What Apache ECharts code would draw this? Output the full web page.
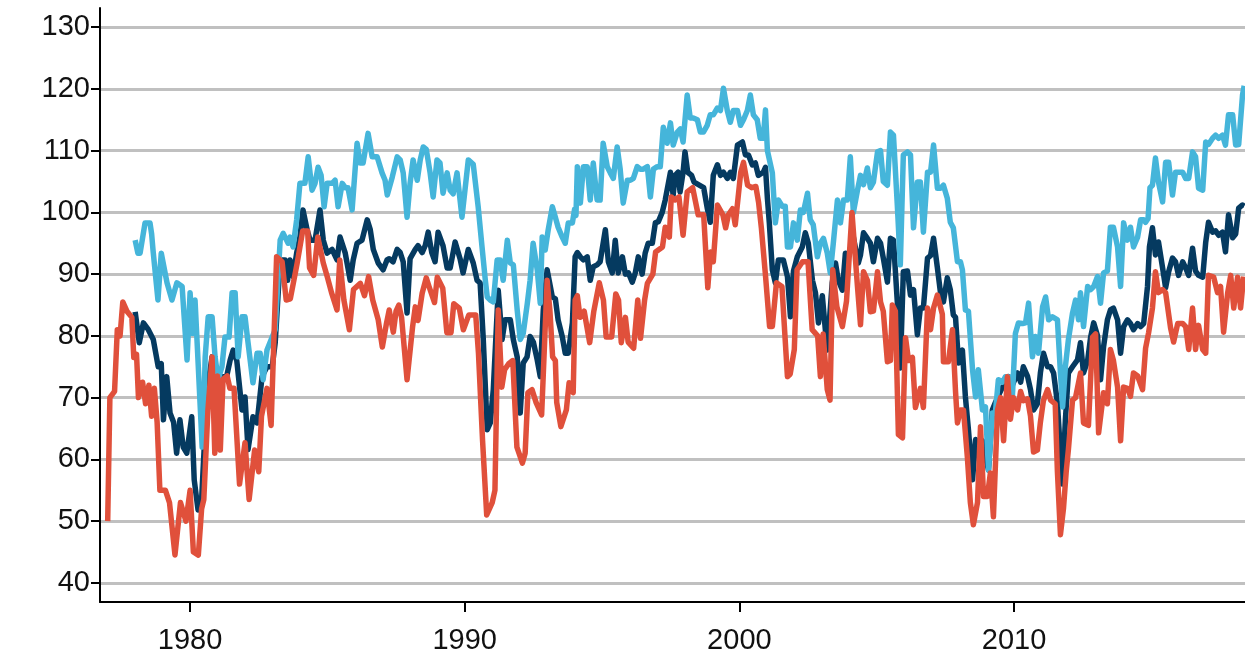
<!DOCTYPE html>
<html>
<head>
<meta charset="utf-8">
<script src="https://cdn.jsdelivr.net/npm/echarts@6/dist/echarts.min.js"></script>
<style>html,body{margin:0;padding:0;background:#fff}#c{width:1245px;height:663px}</style>
</head>
<body>
<div id="c"></div>
<script>
// Tick labels
const yTicks = [40, 50, 60, 70, 80, 90, 100, 110, 120, 130];
const xTicks = [1980, 1990, 2000, 2010];

// Series values: [decimal year, index value]
const redData = [[1977.00,50],[1977.08,70],[1977.25,71],[1977.35,81],[1977.45,80],[1977.55,85.5],[1977.7,84],[1977.88,83],[1977.95,76.5],[1978.05,77],[1978.12,70],[1978.27,72.5],[1978.38,69],[1978.5,72],[1978.6,67],[1978.7,71.5],[1978.8,66],[1978.9,55],[1979.1,55],[1979.25,53],[1979.45,44.5],[1979.65,53],[1979.85,50],[1980.0,55],[1980.12,45],[1980.3,44.5],[1980.42,52],[1980.5,53.5],[1980.65,68],[1980.8,76.6],[1980.9,61],[1981.0,73.5],[1981.1,61.5],[1981.2,73],[1981.35,73.5],[1981.45,71.5],[1981.6,71.5],[1981.8,56],[1982.0,62.7],[1982.15,53.5],[1982.35,61.5],[1982.5,58],[1982.6,67],[1982.8,71.5],[1982.95,65.5],[1983.15,92.8],[1983.35,92],[1983.5,85.8],[1983.65,86],[1983.9,91.8],[1984.1,97],[1984.28,97],[1984.35,91],[1984.5,89.8],[1984.65,96],[1984.85,91.8],[1985.0,89.5],[1985.15,87],[1985.35,84.2],[1985.45,92.3],[1985.6,85.8],[1985.8,81],[1985.95,87.5],[1986.2,88.5],[1986.35,86.5],[1986.5,89.6],[1986.65,85.8],[1986.85,82.6],[1987.0,78.2],[1987.15,82],[1987.25,84.2],[1987.4,80.6],[1987.5,84],[1987.6,85],[1987.7,83],[1987.9,72.9],[1988.1,81.4],[1988.2,84.7],[1988.3,82.5],[1988.45,86.9],[1988.6,89.4],[1988.7,88],[1988.9,85.4],[1989.0,89.5],[1989.2,87.7],[1989.35,80.5],[1989.5,80.5],[1989.6,85.2],[1989.8,84.5],[1989.95,81],[1990.15,83.4],[1990.4,83.4],[1990.5,77.2],[1990.65,63],[1990.8,51],[1991.0,53],[1991.1,55],[1991.22,84.2],[1991.35,71.7],[1991.45,74.5],[1991.6,75.5],[1991.75,76],[1991.9,62],[1992.1,59.4],[1992.2,61],[1992.3,70.8],[1992.45,71.3],[1992.6,69.2],[1992.8,67.2],[1993.0,89],[1993.1,84.2],[1993.2,76.6],[1993.3,76],[1993.35,69.2],[1993.5,65.3],[1993.7,68],[1993.8,72.4],[1993.95,70.8],[1994.02,85.8],[1994.1,86.5],[1994.2,83],[1994.35,84],[1994.55,78.9],[1994.7,84],[1994.9,88.6],[1995.05,85.8],[1995.15,79.8],[1995.35,79.8],[1995.5,86.8],[1995.6,85.8],[1995.7,78.9],[1995.85,83],[1995.95,79],[1996.15,78],[1996.3,85.8],[1996.4,79.6],[1996.55,85.8],[1996.65,88.5],[1996.85,90],[1996.95,93.6],[1997.2,94.4],[1997.3,97.6],[1997.45,96],[1997.52,102.5],[1997.65,102],[1997.8,102.5],[1997.95,96.3],[1998.1,103.3],[1998.3,104],[1998.5,99.6],[1998.7,99.6],[1998.85,87.8],[1998.95,93.6],[1999.05,92],[1999.2,101.2],[1999.4,99.6],[1999.5,97.5],[1999.6,99.6],[1999.75,100.6],[1999.85,98],[2000.05,106.5],[2000.15,108.1],[2000.3,104.4],[2000.45,104],[2000.6,104.2],[2000.7,101.6],[2000.8,97.5],[2000.95,89.8],[2001.1,81.5],[2001.2,81.5],[2001.35,88.6],[2001.55,88],[2001.75,73.4],[2001.85,73.8],[2002.0,77.8],[2002.1,90.7],[2002.3,92],[2002.5,92],[2002.65,81],[2002.85,80],[2002.95,73.4],[2003.05,80.3],[2003.2,71.3],[2003.3,69.6],[2003.4,90.7],[2003.55,84.7],[2003.75,81.5],[2003.9,85.6],[2004.1,100],[2004.3,88],[2004.41,81.8],[2004.52,90.4],[2004.66,89],[2004.77,83.9],[2004.88,84],[2005.03,90.4],[2005.14,85.5],[2005.24,84],[2005.39,75.8],[2005.5,76],[2005.57,85],[2005.68,84],[2005.79,64],[2005.94,63.5],[2006.05,79.7],[2006.16,76],[2006.3,76.5],[2006.41,68.4],[2006.59,71.5],[2006.7,68.4],[2006.85,84.5],[2006.96,81],[2007.07,84.5],[2007.21,86.6],[2007.39,83.5],[2007.43,75.8],[2007.61,75.8],[2007.76,81],[2007.87,71],[2007.94,65.9],[2008.05,68],[2008.16,68],[2008.3,60.4],[2008.41,53],[2008.52,49.4],[2008.67,53],[2008.78,65.3],[2008.89,54],[2009.03,54],[2009.14,57.8],[2009.25,50.7],[2009.4,68],[2009.51,70],[2009.62,63],[2009.76,73.4],[2009.87,66.5],[2009.98,70],[2010.13,68],[2010.24,71],[2010.34,69.5],[2010.49,69.8],[2010.6,67],[2010.71,61.2],[2010.85,61.5],[2010.96,66],[2011.07,69.5],[2011.22,71.3],[2011.33,69.6],[2011.5,69],[2011.58,58],[2011.69,47.8],[2011.8,52],[2011.9,58],[2011.98,61.6],[2012.13,69.6],[2012.24,70],[2012.42,74],[2012.53,65.9],[2012.71,65.5],[2012.86,79.8],[2012.97,80.3],[2013.08,64.3],[2013.15,64],[2013.26,70.8],[2013.4,69],[2013.51,77.8],[2013.62,76],[2013.77,71.7],[2013.88,63],[2013.99,71.7],[2014.13,71.5],[2014.24,70.2],[2014.35,74],[2014.5,73.5],[2014.68,71.3],[2014.79,78],[2014.9,80.5],[2015.04,84.5],[2015.15,90.4],[2015.26,87],[2015.41,87.5],[2015.52,87],[2015.7,81.3],[2015.81,79],[2015.96,82],[2016.14,82],[2016.25,81.5],[2016.36,77.8],[2016.5,84.5],[2016.61,77.8],[2016.72,81.7],[2016.87,77.8],[2016.98,77.2],[2017.08,89.8],[2017.27,89.5],[2017.41,87],[2017.52,88],[2017.63,80.6],[2017.78,87],[2017.89,89.8],[2018.0,84.5],[2018.14,89.5],[2018.25,84.5],[2018.36,89.6]];

const navyData = [[1978.0,83.9],[1978.15,78.9],[1978.3,82.1],[1978.48,81],[1978.66,79.4],[1978.84,75],[1978.95,75.5],[1979.03,66.4],[1979.15,73.4],[1979.27,67.5],[1979.4,66],[1979.51,61],[1979.63,66.4],[1979.75,62],[1979.88,61],[1980.06,66.9],[1980.15,56.7],[1980.29,51.8],[1980.42,53.5],[1980.62,71.3],[1980.8,76.6],[1980.98,72.4],[1981.16,73.4],[1981.33,73.4],[1981.46,76.1],[1981.57,77.7],[1981.7,76],[1981.89,68],[1982.0,70.1],[1982.11,61.6],[1982.29,66.9],[1982.44,65.9],[1982.62,73.4],[1982.8,75],[1982.99,75],[1983.1,78.9],[1983.28,92.3],[1983.46,92.3],[1983.55,89],[1983.64,92.3],[1983.75,89.6],[1983.88,93.4],[1984.0,96],[1984.11,100.4],[1984.26,97.2],[1984.37,95.5],[1984.55,95.5],[1984.73,100.4],[1984.85,95.5],[1984.99,93.4],[1985.17,94],[1985.35,92.3],[1985.46,96],[1985.65,93.4],[1985.83,89],[1985.94,92.3],[1986.08,95],[1986.26,95.5],[1986.45,98.8],[1986.56,97.2],[1986.67,94],[1986.85,91.8],[1987.03,90.7],[1987.17,92.3],[1987.25,92.5],[1987.39,92],[1987.54,94],[1987.65,93.5],[1987.76,92],[1987.9,83.7],[1988.01,92.5],[1988.2,94],[1988.3,94.6],[1988.45,93.5],[1988.56,94.6],[1988.67,96.8],[1988.8,93.5],[1988.92,92],[1989.03,96.8],[1989.21,94.6],[1989.36,91],[1989.47,91],[1989.65,95.2],[1989.83,92.5],[1989.94,90.2],[1990.13,94],[1990.31,91.8],[1990.45,89],[1990.56,88.6],[1990.67,79.9],[1990.82,64.8],[1990.93,65.9],[1991.04,71.3],[1991.22,87.4],[1991.36,79.4],[1991.47,82.6],[1991.66,82.6],[1991.77,79.4],[1991.91,76.6],[1992.02,67.5],[1992.13,75.6],[1992.27,76.6],[1992.38,79.9],[1992.5,79],[1992.64,76.1],[1992.75,73.4],[1992.86,84.2],[1993.0,90.7],[1993.19,86.3],[1993.3,86],[1993.4,82.6],[1993.55,79.9],[1993.66,77.2],[1993.77,77.2],[1993.92,82.1],[1994.02,92.8],[1994.1,93.5],[1994.21,92.8],[1994.32,92.3],[1994.46,92.8],[1994.57,89],[1994.68,91.2],[1994.82,91.5],[1994.93,92],[1995.12,97.2],[1995.23,92],[1995.37,90.2],[1995.48,95.5],[1995.59,90.2],[1995.74,92.8],[1995.85,90],[1995.96,90.2],[1996.1,88.7],[1996.21,90.2],[1996.32,92.8],[1996.46,90],[1996.57,93.4],[1996.68,95],[1996.83,95],[1996.94,98.3],[1997.05,98.5],[1997.19,100],[1997.3,102],[1997.49,106.5],[1997.59,102.8],[1997.66,106],[1997.77,106.5],[1997.84,103.3],[1997.95,106.5],[1998.02,109.8],[1998.12,106.5],[1998.26,106],[1998.35,104.9],[1998.7,104],[1998.83,100.7],[1998.94,98.4],[1999.05,106],[1999.2,107.7],[1999.31,106],[1999.42,106.5],[1999.56,105.5],[1999.67,106.5],[1999.78,105.5],[1999.93,110.9],[2000.11,111.4],[2000.22,109.3],[2000.33,109.3],[2000.47,107.7],[2000.58,108],[2000.69,106],[2000.87,106.5],[2000.95,107.3],[2001.02,102.3],[2001.09,98.3],[2001.2,90.7],[2001.31,88.6],[2001.42,92.3],[2001.6,92.3],[2001.75,89.6],[2001.86,83.1],[2001.97,90.5],[2002.11,92.8],[2002.29,94.4],[2002.4,96.7],[2002.51,95],[2002.66,89],[2002.77,87],[2002.88,82.1],[2003.02,86.5],[2003.13,81],[2003.2,77.7],[2003.38,88.6],[2003.5,91.8],[2003.6,89],[2003.75,87.4],[2003.86,93.4],[2003.97,93],[2004.15,96],[2004.33,91.8],[2004.41,93.1],[2004.52,96.7],[2004.66,95.8],[2004.77,95],[2004.88,92],[2005.03,95.8],[2005.14,95],[2005.24,92.6],[2005.39,88.7],[2005.5,95.8],[2005.61,95.5],[2005.75,85.5],[2005.86,74.8],[2005.97,90.4],[2006.12,90.5],[2006.23,86.6],[2006.34,87.5],[2006.48,80.2],[2006.59,84.5],[2006.7,84.5],[2006.85,92.6],[2006.96,93],[2007.07,95.8],[2007.21,91],[2007.32,87.1],[2007.43,85.5],[2007.57,89.4],[2007.68,87.5],[2007.79,83.4],[2007.87,83],[2007.98,75.6],[2008.12,77.7],[2008.23,70.1],[2008.34,64.8],[2008.49,56.7],[2008.6,63.2],[2008.7,62],[2008.85,63],[2008.96,60.4],[2009.07,58.3],[2009.21,68],[2009.32,69.2],[2009.45,70.5],[2009.58,71.7],[2009.69,72],[2009.8,73.4],[2009.94,72],[2010.13,74],[2010.24,72.5],[2010.34,75],[2010.49,73.5],[2010.6,71.3],[2010.71,68],[2010.85,69],[2010.96,74],[2011.07,77.2],[2011.22,75],[2011.33,75],[2011.44,74],[2011.58,69.1],[2011.76,56],[2011.87,66.4],[2011.98,74],[2012.13,75],[2012.31,76.1],[2012.42,78.9],[2012.53,74],[2012.68,76],[2012.79,79.8],[2012.9,82.1],[2013.04,80],[2013.15,72.9],[2013.26,78.2],[2013.4,82.6],[2013.51,84.2],[2013.62,84.5],[2013.77,82.6],[2013.88,77.2],[2013.99,81.5],[2014.13,82.6],[2014.24,82],[2014.35,81],[2014.5,82],[2014.61,81.5],[2014.72,82],[2014.86,88],[2014.93,94.4],[2015.04,97.5],[2015.15,93.1],[2015.26,95.2],[2015.41,91],[2015.52,87.8],[2015.63,90.4],[2015.77,92.6],[2015.88,92],[2015.99,89.8],[2016.14,92],[2016.25,91],[2016.36,89.8],[2016.5,94.2],[2016.61,90.5],[2016.72,89.8],[2016.87,89.5],[2016.98,95.2],[2017.08,98.4],[2017.23,96.8],[2017.34,97],[2017.45,96.3],[2017.59,96.8],[2017.7,93.6],[2017.81,99.6],[2017.96,95.9],[2018.07,96.5],[2018.18,100.7],[2018.32,101.2],[2018.38,101]];

const blueData = [[1978.0,95.5],[1978.1,93.4],[1978.18,93.4],[1978.36,98.3],[1978.54,98.3],[1978.6,96.5],[1978.65,93.9],[1978.83,85.8],[1978.95,93.4],[1979.16,88.6],[1979.34,85.8],[1979.52,88.6],[1979.71,88],[1979.89,76.1],[1980.0,87],[1980.1,80.4],[1980.18,85.8],[1980.27,77.7],[1980.44,62],[1980.5,68],[1980.55,76.6],[1980.66,83.1],[1980.8,83.1],[1980.91,76.6],[1981.02,72.9],[1981.16,75],[1981.27,79.8],[1981.42,79.8],[1981.53,87],[1981.64,87],[1981.75,76.6],[1981.89,83.1],[1982.0,83.1],[1982.11,78.9],[1982.29,72.4],[1982.44,77.2],[1982.55,77.2],[1982.66,72.9],[1982.8,77.7],[1982.99,79.8],[1983.1,81],[1983.28,95.5],[1983.39,96.6],[1983.57,95],[1983.64,96],[1983.75,94.4],[1983.88,98.8],[1984.0,104.7],[1984.18,104.7],[1984.3,109],[1984.44,103.6],[1984.55,104.7],[1984.66,107.3],[1984.77,106],[1984.88,100.9],[1984.99,104.7],[1985.17,104.7],[1985.28,105.2],[1985.39,100.9],[1985.54,104.7],[1985.65,104],[1985.75,104],[1985.9,100.4],[1986.08,111.2],[1986.19,108],[1986.3,108],[1986.48,112.8],[1986.63,109],[1986.81,109],[1986.99,106.4],[1987.1,105.2],[1987.18,102.8],[1987.36,105.7],[1987.54,109],[1987.65,108.5],[1987.76,106.4],[1987.9,99.2],[1988.01,104.7],[1988.12,108.5],[1988.27,105.2],[1988.38,108.5],[1988.49,110.6],[1988.6,110.2],[1988.74,106.4],[1988.85,102.5],[1988.99,108.5],[1989.1,108],[1989.21,103.1],[1989.36,106.4],[1989.47,103.6],[1989.58,103],[1989.72,106.4],[1989.9,99.2],[1990.13,108.5],[1990.31,107.8],[1990.49,100.9],[1990.63,94.4],[1990.75,89],[1990.82,86.3],[1990.93,85.8],[1991.04,85.5],[1991.18,92.3],[1991.29,92.3],[1991.4,89],[1991.55,95.5],[1991.66,91.8],[1991.77,91.5],[1991.91,84.2],[1992.02,79.4],[1992.13,80.4],[1992.28,85.3],[1992.38,89],[1992.49,95],[1992.64,90.7],[1992.75,85.3],[1992.82,96],[1992.93,93.9],[1993.04,97.2],[1993.19,100.9],[1993.3,99.2],[1993.4,97.6],[1993.55,96],[1993.66,95],[1993.77,98.3],[1993.92,98.3],[1994.0,100.5],[1994.05,99.5],[1994.1,107.4],[1994.21,101.5],[1994.32,107.4],[1994.46,107.4],[1994.57,102],[1994.68,108],[1994.82,102],[1994.93,102],[1995.04,111.2],[1995.19,107.4],[1995.3,106.4],[1995.41,105.5],[1995.55,110.6],[1995.66,107],[1995.77,101.5],[1995.92,105.2],[1996.03,105.2],[1996.14,105.5],[1996.28,107.4],[1996.39,107],[1996.5,107],[1996.65,107.4],[1996.76,102.5],[1996.87,107],[1997.01,107.4],[1997.12,107.4],[1997.23,113.8],[1997.37,111.2],[1997.49,114.5],[1997.59,110.9],[1997.74,113],[1997.85,113.5],[1997.95,111.4],[1998.1,119],[1998.21,115.3],[1998.32,115.3],[1998.47,115],[1998.58,113],[1998.69,113],[1998.83,114.1],[1998.94,115.8],[1999.05,115.8],[1999.2,116.9],[1999.31,116.5],[1999.42,120.1],[1999.56,116.5],[1999.67,114.6],[1999.78,116.5],[1999.93,116.5],[2000.04,114.1],[2000.15,115],[2000.29,116.5],[2000.4,119],[2000.51,115.8],[2000.65,115],[2000.76,112],[2000.87,112],[2000.95,116.6],[2001.02,110],[2001.09,110.1],[2001.2,106.4],[2001.31,98.3],[2001.42,102],[2001.56,101],[2001.67,101],[2001.75,94.4],[2001.86,94.4],[2001.97,98.3],[2002.11,95.5],[2002.22,100.4],[2002.33,100],[2002.48,103.1],[2002.58,98.8],[2002.69,98],[2002.84,92.8],[2002.95,95],[2003.06,95.8],[2003.2,93.4],[2003.31,90.2],[2003.42,95],[2003.57,102],[2003.68,98.3],[2003.79,102],[2003.93,102],[2004.04,109],[2004.15,100],[2004.3,103.6],[2004.41,106],[2004.52,104.5],[2004.66,107.2],[2004.77,104],[2004.88,104.9],[2005.03,109.8],[2005.14,110],[2005.24,105],[2005.39,104.4],[2005.5,113],[2005.61,112.5],[2005.75,101.2],[2005.86,91.5],[2005.97,109.3],[2006.12,109.8],[2006.23,109.3],[2006.34,97.5],[2006.48,104.9],[2006.59,104.9],[2006.7,96.8],[2006.85,106.5],[2006.96,106.5],[2007.07,110.9],[2007.21,103.9],[2007.32,103.9],[2007.43,104.4],[2007.57,102.3],[2007.68,98.4],[2007.79,97.5],[2007.94,92],[2008.05,92],[2008.12,90.7],[2008.23,84.2],[2008.34,84],[2008.49,74.5],[2008.6,70.1],[2008.7,74.5],[2008.85,68],[2008.96,68.5],[2009.07,58.3],[2009.21,67.5],[2009.32,67.5],[2009.43,72.9],[2009.58,72.5],[2009.69,73.4],[2009.8,73.4],[2009.94,70.1],[2010.05,80.4],[2010.16,82.1],[2010.31,82],[2010.42,82.1],[2010.53,85.3],[2010.67,76.6],[2010.78,79.9],[2010.89,77.2],[2011.04,84.7],[2011.15,86.3],[2011.26,82.6],[2011.4,83.1],[2011.58,82.6],[2011.69,74],[2011.77,68.5],[2011.87,75],[2011.98,79.4],[2012.13,83.7],[2012.24,85.8],[2012.35,82.6],[2012.42,87],[2012.53,81.5],[2012.68,88],[2012.79,87.5],[2012.9,88],[2013.04,89.6],[2013.15,85.3],[2013.26,90.2],[2013.4,90.5],[2013.51,97.6],[2013.62,97.6],[2013.77,94.4],[2013.88,88],[2013.99,98.3],[2014.13,95.5],[2014.24,97.6],[2014.35,94.4],[2014.5,96],[2014.61,98.8],[2014.72,98.8],[2014.79,98.4],[2014.88,99],[2014.95,104],[2015.04,104.4],[2015.15,108.8],[2015.26,104.9],[2015.41,101.7],[2015.52,108.1],[2015.63,108.1],[2015.77,102.8],[2015.88,106.5],[2015.99,106.5],[2016.14,106.5],[2016.25,105.5],[2016.36,105.5],[2016.5,109.8],[2016.61,109],[2016.72,103.9],[2016.87,103.6],[2016.98,111.4],[2017.08,111],[2017.23,112],[2017.34,112.5],[2017.45,112],[2017.59,112.5],[2017.7,110.9],[2017.81,115.8],[2017.96,115.8],[2018.07,110.9],[2018.18,111],[2018.32,119],[2018.38,120.5]];

const chart = echarts.init(document.getElementById('c'), null, {renderer: 'canvas'});
const txt = {color: '#111111', fontFamily: 'Liberation Sans, Arial, sans-serif', fontSize: 29};
const lineSeries = (name, data, color) => ({
  name, type: 'line', data, showSymbol: false, symbol: 'none',
  lineStyle: {color, width: 5.5, join: 'round'}, clip: true, silent: true
});
chart.setOption({
  animation: false,
  backgroundColor: '#ffffff',
  grid: {left: 100, right: 0, top: 8, bottom: 61, containLabel: false},
  xAxis: {
    type: 'value', min: 1976.72, max: 2018.41,
    axisLine: {show: true, onZero: false, lineStyle: {color: '#000', width: 2}},
    axisTick: {show: true, length: 10, lineStyle: {color: '#000', width: 2}, customValues: xTicks},
    axisLabel: Object.assign({margin: 24, customValues: xTicks, formatter: v => String(v)}, txt),
    splitLine: {show: false}
  },
  yAxis: {
    type: 'value', min: 36.9, max: 133.1,
    axisLine: {show: true, onZero: false, lineStyle: {color: '#000', width: 2}},
    axisTick: {show: true, length: 9, lineStyle: {color: '#000', width: 2}, customValues: yTicks},
    axisLabel: Object.assign({margin: 10, customValues: yTicks}, txt),
    splitLine: {show: true, lineStyle: {color: '#c0c0c0', width: 3}}
  },
  series: [
    lineSeries('Middle', navyData, '#053a60'),
    lineSeries('Upper', blueData, '#45b5da'),
    lineSeries('Lower', redData, '#e0503b')
  ]
});
</script>
</body>
</html>
